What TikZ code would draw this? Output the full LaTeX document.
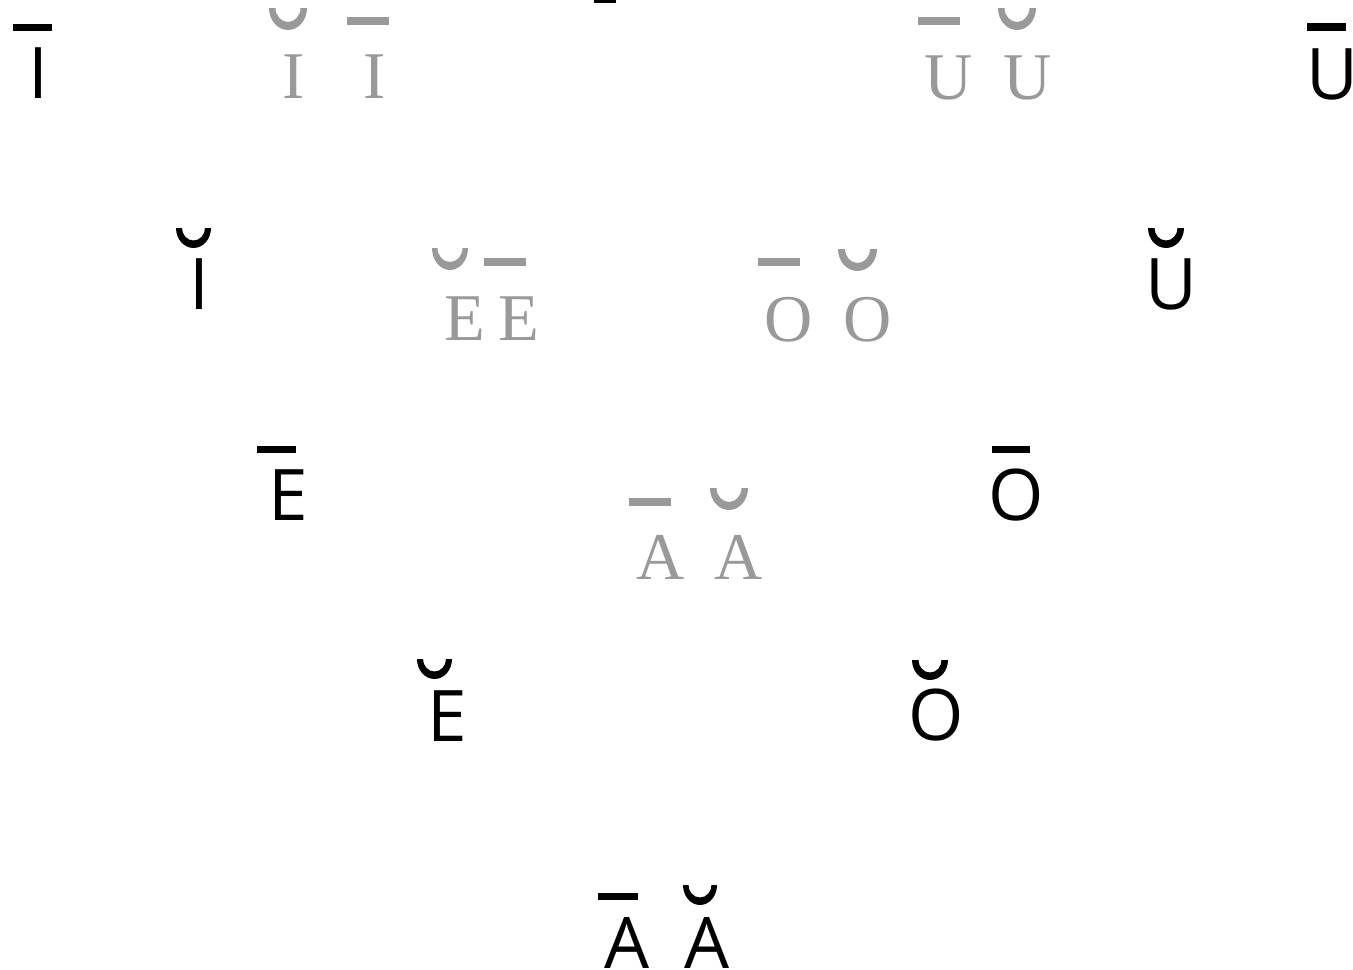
\documentclass[tikz,border=0pt]{standalone}
\usepackage{fontspec}
\setmainfont{Open Sans}
\newfontfamily\serifgr{Liberation Serif}
\definecolor{gc}{RGB}{153,153,153}
% breve (crescent): left x, right x, bottom y, colour, outer depth, inner half width, inner depth
\newcommand\brv[7]{%
 \pgfmathsetmacro\bcx{(#1+#2)/2}%
 \pgfmathsetmacro\bR{(#2-#1)/2}%
 \pgfmathsetmacro\btop{-#3+#5}%
 \fill[#4] ({\bcx-\bR},\btop) arc[start angle=180,end angle=360,x radius=\bR,y radius=#5]
   -- ({\bcx+#6},\btop) arc[start angle=360,end angle=180,x radius=#6,y radius=#7] -- cycle;}
% macron: left x, right x, top y, bottom y, colour
\newcommand\mac[5]{\fill[#5] (#1,-#3) rectangle (#2,-#4);}
\tikzset{
 bl/.style={font=\fontsize{40.5}{48}\selectfont, text=black, inner sep=0pt, anchor=base},
 gr/.style={font=\serifgr\fontsize{38}{46}\selectfont, text=gc, inner sep=0pt, anchor=base}
}
\begin{document}
\begin{tikzpicture}[x=0.02cm,y=0.02cm]
\useasboundingbox (0,0) rectangle (1353,-970);
\clip (0,0) rectangle (1353,-970);
% black letters
\node[bl] (Ibar) at (38.5,-98) {I};
\node[bl] (Ubar) at (1332.5,-99) {U};
\node[bl] (Ibrv) at (199.5,-309) {I};
\node[bl] (Ubrv) at (1171,-309) {U};
\node[bl] (Ebar) at (288.5,-520) {E};
\node[bl] (Obar) at (1016,-520) {O};
\node[bl] (Ebrv) at (447.5,-741) {E};
\node[bl] (Obrv) at (936,-740) {O};
\node[bl] (Abar) at (627,-968) {A};
\node[bl] (Abrv) at (707,-968) {A};
% black macrons
\mac{13}{52}{24}{31}{black}
\mac{1307}{1346}{23}{31}{black}
\mac{257}{296}{446}{453}{black}
\mac{992}{1030}{446}{453}{black}
\mac{598}{638}{893}{900}{black}
\mac{594}{616}{-2}{3}{black}
% black breves
\brv{176}{211}{248}{black}{20}{11.5}{12.5}
\brv{1148}{1184}{248}{black}{20}{11.5}{12.5}
\brv{417}{452}{679}{black}{20}{11.5}{12.5}
\brv{912}{948}{680}{black}{20}{11.5}{12.5}
\brv{683}{717}{905}{black}{20}{11.5}{12.5}
% grey letters
\node[gr] (gI1) at (294,-98) {I};
\node[gr] (gI2) at (374.5,-98) {I};
\node[gr] (gU1) at (949,-99) {U};
\node[gr] (gU2) at (1027.5,-99) {U};
\node[gr] (gE1) at (464.5,-340) {E};
\node[gr] (gE2) at (519,-340) {E};
\node[gr] (gO1) at (789,-341) {O};
\node[gr] (gO2) at (867.5,-341) {O};
\node[gr] (gA1) at (660.5,-579) {A};
\node[gr] (gA2) at (738.5,-579) {A};
% grey macrons
\mac{347}{389}{17}{25}{gc}
\mac{918}{960}{17}{25}{gc}
\mac{484}{526}{258}{266}{gc}
\mac{758}{800}{258}{266}{gc}
\mac{629}{671}{498}{506}{gc}
% grey breves
\brv{269}{307}{30}{gc}{22}{12.5}{14}
\brv{998}{1036}{30}{gc}{22}{12.5}{14}
\brv{432}{468}{270}{gc}{22}{12.5}{14}
\brv{838}{877}{271}{gc}{22}{12.5}{14}
\brv{710}{748}{510}{gc}{22}{12.5}{14}
\end{tikzpicture}
\end{document}
